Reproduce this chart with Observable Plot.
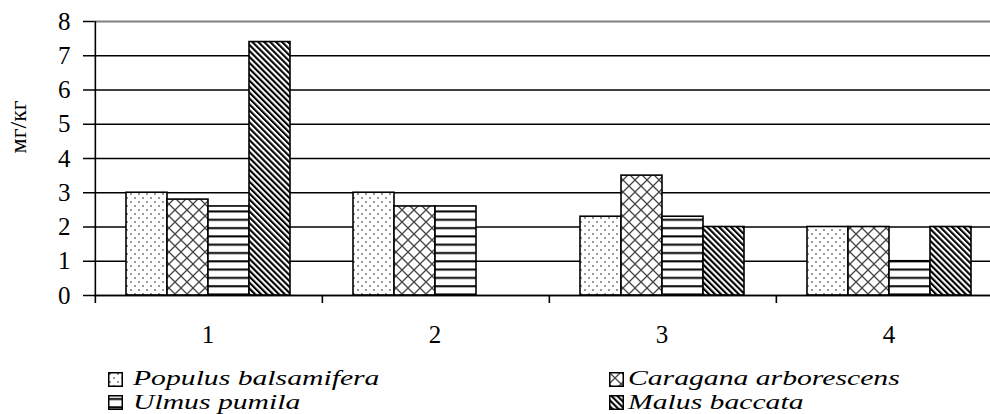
<!DOCTYPE html>
<html>
<head>
<meta charset="utf-8">
<script src="https://cdn.jsdelivr.net/npm/d3@7"></script>
<script src="https://cdn.jsdelivr.net/npm/@observablehq/plot@0.6"></script>
<style>
  html, body { margin: 0; padding: 0; background: #fff; overflow: hidden; }
  #wrap { position: relative; width: 990px; height: 414px; font-family: "Liberation Serif", "Times New Roman", serif; color: #000; }
  #chart { position: absolute; left: 0; top: 0; }
  .icon { position: absolute; width: 15px; height: 15px; }
  .lab { position: absolute; font-style: italic; font-size: 21.5px; line-height: 24px; white-space: nowrap; transform: scaleX(1.38); transform-origin: left center; }
</style>
</head>
<body>
<svg width="0" height="0" style="position:absolute">
  <defs>
    <pattern id="pDots" width="8" height="8" patternUnits="userSpaceOnUse">
      <rect width="8" height="8" fill="#fff"/>
      <circle cx="2" cy="2" r="1" fill="#777"/>
      <circle cx="6" cy="6" r="1" fill="#777"/>
    </pattern>
    <pattern id="pCross" width="12" height="12" patternUnits="userSpaceOnUse">
      <rect width="12" height="12" fill="#fff"/>
      <path d="M-1,-1L13,13M13,-1L-1,13" stroke="#444" stroke-width="1.3"/>
    </pattern>
    <pattern id="pHoriz" width="8" height="8.3" patternUnits="userSpaceOnUse">
      <rect width="8" height="8.3" fill="#fff"/>
      <rect y="3" width="8" height="2" fill="#000"/>
    </pattern>
    <pattern id="pDiag" width="4.2" height="4.2" patternUnits="userSpaceOnUse" patternTransform="rotate(-45)">
      <rect width="4.2" height="4.2" fill="#fff"/>
      <rect width="2.1" height="4.2" fill="#000"/>
    </pattern>
  </defs>
</svg>
<div id="wrap">
  <div id="chart"></div>
  <div id="legend"></div>
</div>
<script>
// ---- data ----
const groups = ["1", "2", "3", "4"];
const series = ["Populus balsamifera", "Caragana arborescens", "Ulmus pumila", "Malus baccata"];
const populus  = [3.0, 3.0, 2.3, 2.0];
const caragana = [2.8, 2.6, 3.5, 2.0];
const ulmus    = [2.6, 2.6, 2.3, 1.0];
const malus    = [7.4, null, 2.0, 2.0];
const yTicks = [0, 1, 2, 3, 4, 5, 6, 7, 8];
const yLabel = "мг/кг";
const patterns = ["url(#pDots)", "url(#pCross)", "url(#pHoriz)", "url(#pDiag)"];

const valuesBySeries = [populus, caragana, ulmus, malus];
const rows = groups.flatMap((g, i) =>
  series.map((s, j) => ({group: g, series: s, value: valuesBySeries[j][i]}))
).filter(d => d.value != null);

// ---- layout ----
const W = 990, H = 350, mL = 93, mR = -12, mT = 21, mB = 55;
const outerPad = 0.75;
const step = (W - mL - mR) / groups.length / (series.length + 2 * outerPad);
const edgeDx = -(outerPad + 0.5) * step;

const barMarks = series.map((s, j) =>
  Plot.barY(rows.filter(d => d.series === s), {
    fx: "group", x: "series", y: "value",
    fill: patterns[j], stroke: "#000", strokeWidth: 1.6
  })
);

const plot = Plot.plot({
  width: W, height: H,
  marginLeft: mL, marginRight: mR, marginTop: mT, marginBottom: mB,
  style: {fontFamily: "'Liberation Serif', 'Times New Roman', serif", color: "#000", background: "#fff", overflow: "hidden"},
  fx: {domain: groups, padding: 0, label: null},
  x: {domain: series, paddingInner: 0, paddingOuter: outerPad, axis: null},
  y: {domain: [0, 8], label: null},
  marks: [
    Plot.gridY(yTicks.filter(t => t < 8), {stroke: "#000", strokeOpacity: 1, strokeWidth: 1.5}),
    Plot.ruleY([8], {stroke: "#808080", strokeWidth: 2}),
    ...barMarks,
    Plot.ruleY([0], {stroke: "#000", strokeWidth: 1.6}),
    Plot.ruleX(groups, {fx: d => d, x: () => series[0], dx: edgeDx, y1: 0, y2: 0, insetBottom: -8, stroke: "#000", strokeWidth: 1.6}),
    Plot.ruleX(groups.slice(0, 1), {fx: d => d, x: () => series[0], dx: edgeDx, y1: 0, y2: 8, stroke: "#000", strokeWidth: 1.6}),
    Plot.axisY({ticks: yTicks, tickSize: 11, tickPadding: 13, fontSize: 25, strokeWidth: 1.5, label: null, tickFormat: d => String(d)}),
    Plot.axisFx({anchor: "bottom", tickSize: 0, tickPadding: 30, fontSize: 25, label: null}),
    Plot.text([yLabel], {fx: () => groups[0], text: d => d, frameAnchor: "left", rotate: -90, dx: -76, dy: -5, fontSize: 24})
  ]
});
document.getElementById("chart").appendChild(plot);

// ---- legend: two columns, two entries each ----
const legend = document.getElementById("legend");
const legendPos = [
  {icon: [108, 372], text: [133, 366]},
  {icon: [609, 372], text: [628, 366]},
  {icon: [108, 395], text: [133, 390]},
  {icon: [609, 395], text: [628, 390]}
];
series.forEach((s, j) => {
  const p = legendPos[j];
  const ic = document.createElementNS("http://www.w3.org/2000/svg", "svg");
  ic.setAttribute("class", "icon");
  ic.setAttribute("viewBox", "0 0 15 15");
  ic.style.left = p.icon[0] + "px";
  ic.style.top = p.icon[1] + "px";
  const r = document.createElementNS("http://www.w3.org/2000/svg", "rect");
  r.setAttribute("x", 0.75); r.setAttribute("y", 0.75);
  r.setAttribute("width", 13.5); r.setAttribute("height", 13.5);
  r.setAttribute("fill", patterns[j]);
  r.setAttribute("stroke", "#000"); r.setAttribute("stroke-width", 1.5);
  ic.appendChild(r);
  legend.appendChild(ic);
  const t = document.createElement("div");
  t.className = "lab";
  t.textContent = s;
  t.style.left = p.text[0] + "px";
  t.style.top = p.text[1] + "px";
  legend.appendChild(t);
});
</script>
</body>
</html>
